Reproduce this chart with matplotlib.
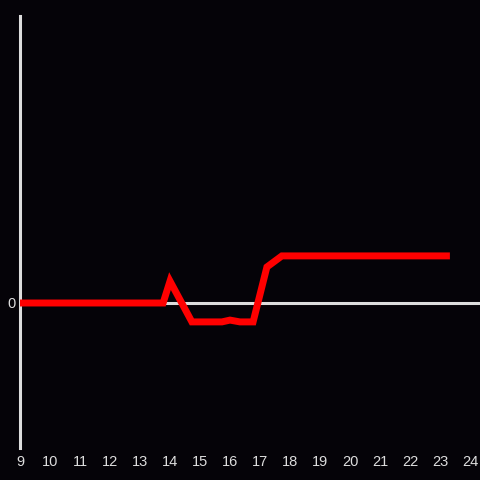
import matplotlib.pyplot as plt

# hours of day and value
hours = [9, 13.77, 14.0, 14.73, 15.73, 16.0, 16.33, 16.77, 17.23, 17.73, 23.33]
values = [0, 0, 0.73, -0.63, -0.63, -0.57, -0.63, -0.63, 1.2, 1.57, 1.57]
xticks = list(range(9, 25))

bg = '#050308'
axis_col = '#dddddd'

fig = plt.figure(figsize=(4.8, 4.8), dpi=100, facecolor=bg)
ax = fig.add_axes([20 / 480, 32 / 480, 460 / 480, 432 / 480], facecolor=bg)

ax.axhline(0, color=axis_col, lw=2.2, zorder=1)
ax.plot(hours, values, color='#ff0000', lw=5, solid_joinstyle='miter',
        solid_capstyle='butt', zorder=3)

ax.set_xlim(9, 9 + 460 / 30)
ax.set_ylim(-145 / 30, 287 / 30)

for s in ['top', 'right', 'bottom']:
    ax.spines[s].set_visible(False)
ax.spines['left'].set_color(axis_col)
ax.spines['left'].set_linewidth(2.2)
ax.spines['left'].set_zorder(2)

ax.set_xticks(xticks)
ax.set_yticks([0])
ax.tick_params(length=0, colors=axis_col, labelsize=10.5)
ax.tick_params(axis='x', pad=5)
ax.tick_params(axis='y', pad=3)
for lab in ax.get_xticklabels() + ax.get_yticklabels():
    lab.set_fontfamily('Liberation Sans')

fig.savefig('out.png', dpi=100, facecolor=bg)
